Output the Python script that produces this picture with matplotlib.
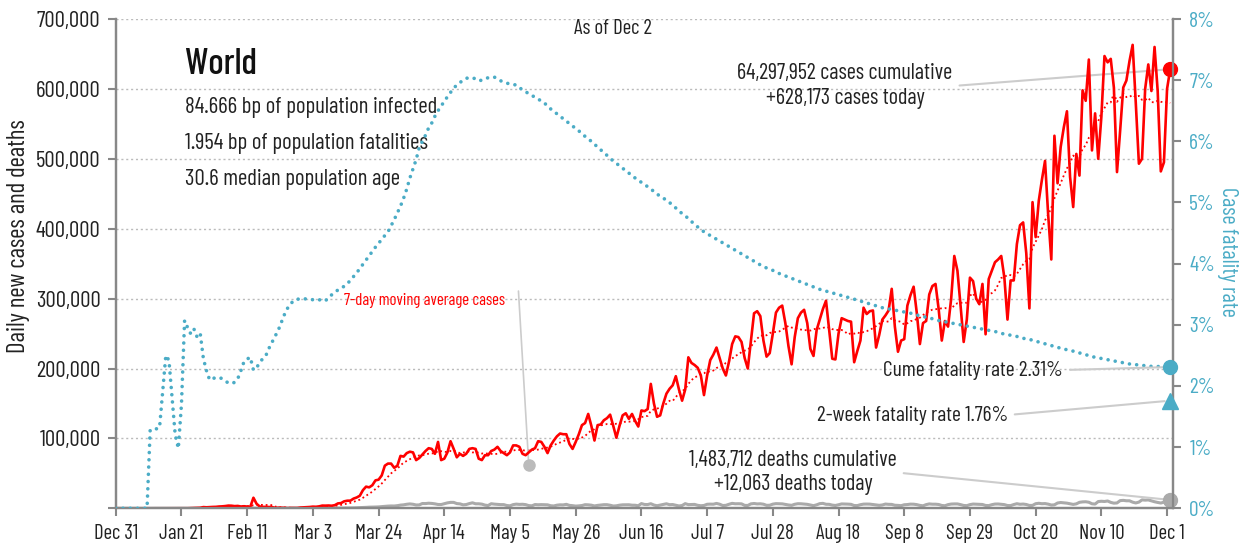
import numpy as np
import pandas as pd
import matplotlib
matplotlib.use("Agg")
import matplotlib.pyplot as plt

plt.rcParams['font.family'] = ['Barlow Condensed', 'Roboto Condensed', 'DejaVu Sans']

# daily data, Dec 31 2019 .. Dec 2 2020
start_date = '2019-12-31'

# daily new cases, thousands
cases_k = [
    0.027, 0, 0, 0.017, 0, 0.015, 0, 0, 0, 0,
    0, 0, 0, 0, 0, 0.001, 0.001, 0.004, 0.017, 0.136,
    0.019, 0.151, 0.14, 0.097, 0.259, 0.441, 0.665, 0.787, 1.753, 1.466,
    1.74, 1.98, 2.102, 2.59, 2.812, 3.237, 3.872, 3.727, 3.16, 3.418,
    2.607, 2.974, 2.49, 2.028, 15.148, 6.526, 2.66, 2.1, 2.048, 1.888,
    1.749, 0.391, 0.889, 0.823, 0.648, 0.214, 0.508, 0.406, 0.452, 1.101,
    1.372, 1.8, 1.9, 2.4, 2.2, 2.8, 3.9, 3.8, 4.0, 3.7,
    4.5, 7.0, 7.5, 10.0, 10.9, 11.0, 13.9, 15.5, 18.0, 26.0,
    31.0, 30.0, 33.0, 40.0, 41.0, 47.0, 61.0, 64.0, 64.0, 58.0,
    61.0, 75.0, 74, 79, 81, 80, 69, 72, 77, 82,
    86, 85, 78, 95, 69, 71, 80, 96, 85, 73,
    78, 75, 78, 85, 86, 85, 71, 69, 76, 76,
    82, 84, 88, 82, 79, 76, 80, 90, 90, 88,
    78, 76, 80, 84, 86, 96, 95, 88, 79, 90,
    97, 103, 107, 106, 106, 92, 85, 95, 106, 119,
    122, 135, 118, 97, 119, 120, 126, 129, 134, 118,
    101, 118, 133, 136, 128, 135, 125, 117, 140, 139,
    142, 178, 150, 131, 133, 150, 164, 171, 176, 189,
    170, 154, 170, 216, 208, 205, 201, 190, 162, 190,
    212, 220, 230, 215, 200, 190, 210, 235, 246, 245,
    238, 215, 200, 240, 279, 282, 275, 240, 217, 222,
    250, 280, 287, 290, 265, 232, 206, 245, 272, 280,
    284, 265, 228, 218, 255, 270, 285, 297, 255, 214,
    213, 250, 272, 270, 268, 267, 209, 225, 240, 287,
    278, 282, 283, 230, 248, 270, 276, 283, 314, 260,
    224, 240, 242, 290, 305, 317, 280, 235, 265, 268,
    306, 318, 321, 285, 240, 268, 260, 300, 361, 340,
    290, 238, 270, 330, 325, 300, 292, 321, 249, 328,
    340, 352, 356, 361, 330, 270, 326, 326, 378, 405,
    409, 365, 286, 438, 388, 440, 470, 497, 420, 356,
    533, 465, 517, 545, 568, 474, 431, 507, 476, 598,
    583, 642, 512, 565, 500, 560, 647, 638, 643, 602,
    481, 540, 602, 612, 640, 663, 580, 493, 500, 600,
    635, 597, 660, 597, 482, 495, 600, 628.173,
]

# daily new deaths
deaths = [
    0, 0, 0, 0, 0, 0, 0, 0, 0, 0,
    0, 1, 0, 0, 0, 0, 1, 0, 0, 1,
    3, 0, 11, 9, 15, 15, 24, 26, 26, 38,
    43, 46, 46, 57, 64, 66, 73, 73, 86, 89,
    97, 108, 97, 254, 121, 143, 142, 105, 98, 139,
    115, 118, 109, 97, 150, 71, 52, 29, 44, 37,
    58, 67, 71, 71, 81, 97, 100, 103, 105, 228,
    198, 272, 321, 349, 420, 468, 611, 775, 802, 1003,
    1380, 1650, 1700, 1880, 2060, 2450, 2870, 3180, 3380, 3300,
    3800, 4600, 5000, 5800, 6300, 5800, 4800, 4900, 6900, 6800,
    7300, 7000, 6400, 5500, 5400, 6600, 7800, 8500, 8500, 6800,
    6400, 5000, 5400, 6800, 7900, 6500, 6500, 6000, 4600, 4000,
    6600, 6000, 5600, 5300, 5300, 4000, 3600, 5300, 6000, 5600,
    5800, 5300, 3900, 3600, 5400, 5100, 5300, 5200, 5000, 3700,
    3400, 4500, 5000, 4900, 5700, 4200, 3800, 3200, 3500, 4000,
    5200, 5000, 4500, 3400, 4200, 4700, 5200, 5200, 4400, 3300,
    3600, 4500, 5000, 5100, 5100, 4500, 4400, 3700, 6800, 5500,
    5400, 6600, 4700, 3700, 4600, 5600, 6500, 5200, 5400, 4400,
    3400, 4000, 6700, 5300, 5500, 5600, 4300, 3700, 4100, 5800,
    6000, 5900, 7000, 5900, 4000, 4300, 5800, 7100, 6500, 6600,
    6400, 4200, 4100, 6400, 6900, 6300, 6500, 5900, 4300, 4400,
    6000, 6700, 6600, 6400, 5600, 4800, 4300, 5800, 6600, 6500,
    6100, 5700, 4800, 3800, 5000, 6700, 7100, 5800, 5700, 4600,
    4100, 5100, 6300, 6200, 6000, 5700, 4000, 3900, 5200, 6000,
    6100, 6000, 5400, 4800, 4300, 4800, 6100, 5700, 5600, 4400,
    4200, 3800, 5100, 5400, 6000, 5900, 5300, 4200, 3600, 5300,
    6300, 5900, 5900, 5500, 4100, 3700, 5300, 6100, 6300, 6300,
    5300, 4100, 3800, 5300, 6100, 5900, 5800, 5500, 4100, 3900,
    5200, 6100, 6200, 5800, 5300, 4000, 3900, 5400, 6600, 5800,
    6100, 5500, 4100, 4200, 6600, 7200, 6600, 6800, 6000, 4700,
    5000, 7600, 8300, 7900, 7400, 6500, 5600, 6400, 8600, 9200,
    9400, 8700, 6500, 6100, 9700, 10100, 9800, 10500, 8500, 7400,
    7700, 11000, 11400, 10800, 10800, 8800, 7700, 8900, 12100, 11700,
    12000, 10700, 9400, 8400, 7600, 8700, 10500, 12063,
]

# cumulative case fatality rate, percent
cfr = [
    0, 0, 0, 0, 0, 0, 0, 0, 0, 0,
    0, 1.28, 1.3, 1.3, 1.32, 1.9, 2.5, 2.42, 1.8, 1.2,
    0.98, 1.7, 3.07, 2.95, 2.85, 2.93, 2.8, 2.86, 2.45, 2.25,
    2.1, 2.12, 2.14, 2.14, 2.12, 2.08, 2.05, 2.04, 2.06, 2.12,
    2.25, 2.4, 2.44, 2.47, 2.26, 2.3, 2.38, 2.45, 2.5, 2.62,
    2.72, 2.82, 2.92, 3.05, 3.18, 3.28, 3.35, 3.4, 3.42, 3.42,
    3.43, 3.42, 3.42, 3.41, 3.42, 3.41, 3.4, 3.39, 3.45, 3.49,
    3.53, 3.57, 3.6, 3.63, 3.67, 3.73, 3.79, 3.85, 3.92, 3.99,
    4.06, 4.13, 4.2, 4.27, 4.33, 4.4, 4.46, 4.52, 4.62, 4.72,
    4.83, 4.94, 5.07, 5.22, 5.4, 5.55, 5.7, 5.9, 6.0, 6.1,
    6.22, 6.3, 6.41, 6.5, 6.58, 6.65, 6.73, 6.8, 6.87, 6.92,
    6.96, 7.0, 7.03, 7.04, 7.04, 7.02, 6.99, 7.0, 7.02, 7.04,
    7.05, 7.05, 7.02, 6.99, 6.97, 6.95, 6.94, 6.93, 6.92, 6.88,
    6.84, 6.81, 6.78, 6.75, 6.72, 6.69, 6.66, 6.63, 6.57, 6.53,
    6.49, 6.45, 6.41, 6.37, 6.33, 6.29, 6.25, 6.21, 6.17, 6.13,
    6.08, 6.04, 6.0, 5.95, 5.91, 5.86, 5.82, 5.77, 5.72, 5.68,
    5.64, 5.6, 5.56, 5.52, 5.48, 5.44, 5.4, 5.36, 5.33, 5.29,
    5.26, 5.22, 5.18, 5.14, 5.1, 5.07, 5.04, 5.0, 4.95, 4.91,
    4.86, 4.82, 4.78, 4.74, 4.69, 4.64, 4.6, 4.56, 4.52, 4.49,
    4.46, 4.43, 4.4, 4.37, 4.34, 4.31, 4.28, 4.25, 4.22, 4.19,
    4.16, 4.13, 4.1, 4.07, 4.04, 4.01, 3.98, 3.95, 3.93, 3.91,
    3.89, 3.86, 3.84, 3.82, 3.8, 3.78, 3.76, 3.74, 3.72, 3.7,
    3.68, 3.66, 3.64, 3.62, 3.6, 3.58, 3.57, 3.55, 3.54, 3.52,
    3.51, 3.49, 3.48, 3.46, 3.45, 3.43, 3.42, 3.4, 3.39, 3.37,
    3.36, 3.34, 3.33, 3.31, 3.3, 3.28, 3.27, 3.26, 3.25, 3.24,
    3.23, 3.22, 3.21, 3.2, 3.19, 3.18, 3.16, 3.15, 3.14, 3.12,
    3.11, 3.1, 3.08, 3.07, 3.06, 3.05, 3.04, 3.03, 3.02, 3.01,
    3.0, 2.99, 2.98, 2.97, 2.96, 2.95, 2.94, 2.93, 2.92, 2.91,
    2.9, 2.89, 2.88, 2.86, 2.85, 2.84, 2.83, 2.82, 2.81, 2.79,
    2.78, 2.77, 2.76, 2.75, 2.73, 2.72, 2.7, 2.69, 2.67, 2.66,
    2.65, 2.63, 2.62, 2.61, 2.59, 2.58, 2.57, 2.55, 2.54, 2.53,
    2.51, 2.5, 2.48, 2.47, 2.46, 2.45, 2.44, 2.43, 2.42, 2.41,
    2.4, 2.39, 2.38, 2.37, 2.36, 2.35, 2.35, 2.34, 2.34, 2.33,
    2.33, 2.32, 2.32, 2.32, 2.31, 2.31, 2.31, 2.31,
]

cases_cumulative = 64297952
deaths_cumulative = 1483712
two_week_cfr = 1.76
ma_pointer_day = 132   # where the "7-day moving average" label points
ma_pointer_val = 62000

stats_lines = ["84.666 bp of population infected",
               "1.954 bp of population fatalities",
               "30.6 median population age"]

RED = '#ff0000'
BLUE = '#4bacc6'
GREY = '#aaaaaa'
AXGREY = '#888888'
TXT = '#222222'

n = len(cases_k)
df = pd.DataFrame({'cases': np.array(cases_k) * 1000,
                   'deaths': deaths[:n], 'cfr': cfr[:n]},
                  index=pd.date_range(start_date, periods=n))
df['ma7'] = df['cases'].rolling(7, min_periods=1).mean()
x = np.arange(n)

fig = plt.figure(figsize=(12.42, 5.46), dpi=100)
ax = fig.add_axes([0.0932, 0.0690, 0.8510, 0.8962])
ax2 = ax.twinx()

ax.plot(x, df['deaths'], color=GREY, lw=2.2, zorder=2)
ax.plot(x, df['ma7'], color=RED, lw=1.3, linestyle=(0, (1, 1.6)), zorder=3)
ax.plot(x, df['cases'], color=RED, lw=1.9, zorder=4)

ax2.plot(x, df['cfr'], color=BLUE, lw=2.6, linestyle=(0, (0.01, 2.0)),
         dash_capstyle='round', zorder=3)

# end markers
last = n - 1
ax.plot(last, df['cases'].iloc[-1], 'o', color=RED, ms=10, clip_on=False, zorder=6)
ax.plot(last, df['deaths'].iloc[-1], 'o', color=GREY, ms=10, clip_on=False, zorder=6)
ax2.plot(last, df['cfr'].iloc[-1], 'o', color=BLUE, ms=10, clip_on=False, zorder=6)
ax2.plot(last, two_week_cfr, '^', color=BLUE, ms=11, clip_on=False, zorder=6)
ax.plot(ma_pointer_day, ma_pointer_val, 'o', color='#bbbbbb', ms=8, zorder=6)

# axes
ax.set_xlim(0, last + 0.8)
ax.set_ylim(0, 700000)
ax2.set_ylim(0, 8)
ax.set_yticks(np.arange(0, 700001, 100000))
ax.set_yticklabels([f"{v:,}" if v else "" for v in range(0, 700001, 100000)])
ax2.set_yticks(np.arange(0, 9))
ax2.set_yticklabels([f"{v}%" for v in range(0, 9)])
ticks = np.arange(0, last, 21)
ax.set_xticks(ticks)
ax.set_xticklabels([df.index[t].strftime('%b ') + str(df.index[t].day) for t in ticks])

ax.yaxis.grid(True, linestyle=(0, (1.5, 2.0)), color='#bbbbbb', lw=1.0)
ax.set_axisbelow(True)

for a in (ax, ax2):
    a.spines['top'].set_visible(False)
    for s in ('left', 'right', 'bottom'):
        a.spines[s].set_color(AXGREY)
        a.spines[s].set_linewidth(1.6)
ax.tick_params(axis='both', colors=AXGREY, length=6, width=1.5, labelsize=15,
               labelcolor=TXT)
ax.tick_params(axis='y', labelsize=16.5, pad=5)
ax.tick_params(axis='x', pad=5)
ax2.tick_params(axis='y', colors=AXGREY, length=6, width=1.5, labelsize=15.5,
                labelcolor=BLUE, pad=6)

ax.set_ylabel("Daily new cases and deaths", fontsize=18, color=TXT, va='center')
ax.yaxis.set_label_coords(-0.0924, 0.556)
ax2.set_ylabel("Case fatality rate", fontsize=16, color=BLUE, rotation=270,
               va='center')
ax2.yaxis.set_label_coords(1.0523, 0.524)

# text block
ax.text(0.0656, 0.906, "World", transform=ax.transAxes, fontsize=26,
        color='#111111', va='center', ha='left', fontweight='medium')
for i, s in enumerate(stats_lines):
    ax.text(0.0656, 0.820 - i * 0.0735, s, transform=ax.transAxes,
            fontsize=16.5, color=TXT, va='center', ha='left')
ax.text(0.470, 0.981, "As of Dec 2", transform=ax.transAxes, fontsize=15,
        color=TXT, va='center', ha='center')

line_kw = dict(arrowstyle='-', color='#cccccc', lw=1.5, shrinkA=3, shrinkB=4)

ax.annotate(f"{cases_cumulative:,} cases cumulative\n"
            f"+{int(round(df['cases'].iloc[-1])):,} cases today",
            xy=(last, df['cases'].iloc[-1]), xytext=(0.690, 0.863),
            textcoords='axes fraction', ha='center', va='center', fontsize=16,
            color=TXT, linespacing=1.2,
            arrowprops=dict(relpos=(1.0, 0.5), **line_kw))

ax.annotate(f"{deaths_cumulative:,} deaths cumulative\n"
            f"+{df['deaths'].iloc[-1]:,} deaths today",
            xy=(last, df['deaths'].iloc[-1]), xytext=(0.6407, 0.0732),
            textcoords='axes fraction', ha='center', va='center', fontsize=16,
            color=TXT, linespacing=1.2,
            arrowprops=dict(relpos=(1.0, 0.5), **line_kw))

ax2.annotate(f"Cume fatality rate {df['cfr'].iloc[-1]:.2f}%",
             xy=(last, df['cfr'].iloc[-1]), xytext=(0.8963, 0.2826),
             textcoords='axes fraction', ha='right', va='center', fontsize=15.5,
             color=TXT, arrowprops=dict(relpos=(1.0, 0.5), **line_kw))

ax2.annotate(f"2-week fatality rate {two_week_cfr:.2f}%",
             xy=(last, two_week_cfr), xytext=(0.844, 0.1907),
             textcoords='axes fraction', ha='right', va='center', fontsize=15.5,
             color=TXT, arrowprops=dict(relpos=(1.0, 0.5), **line_kw))

ax.text(0.2917, 0.4256, "7-day moving average cases", transform=ax.transAxes,
        fontsize=12, color=RED, ha='center', va='center')
ax.annotate("", xy=(ma_pointer_day, ma_pointer_val), xytext=(0.381, 0.444),
            textcoords='axes fraction',
            arrowprops=dict(arrowstyle='-', color='#cccccc', lw=1.2,
                            shrinkA=0, shrinkB=4))

fig.savefig("out.png", dpi=100)
